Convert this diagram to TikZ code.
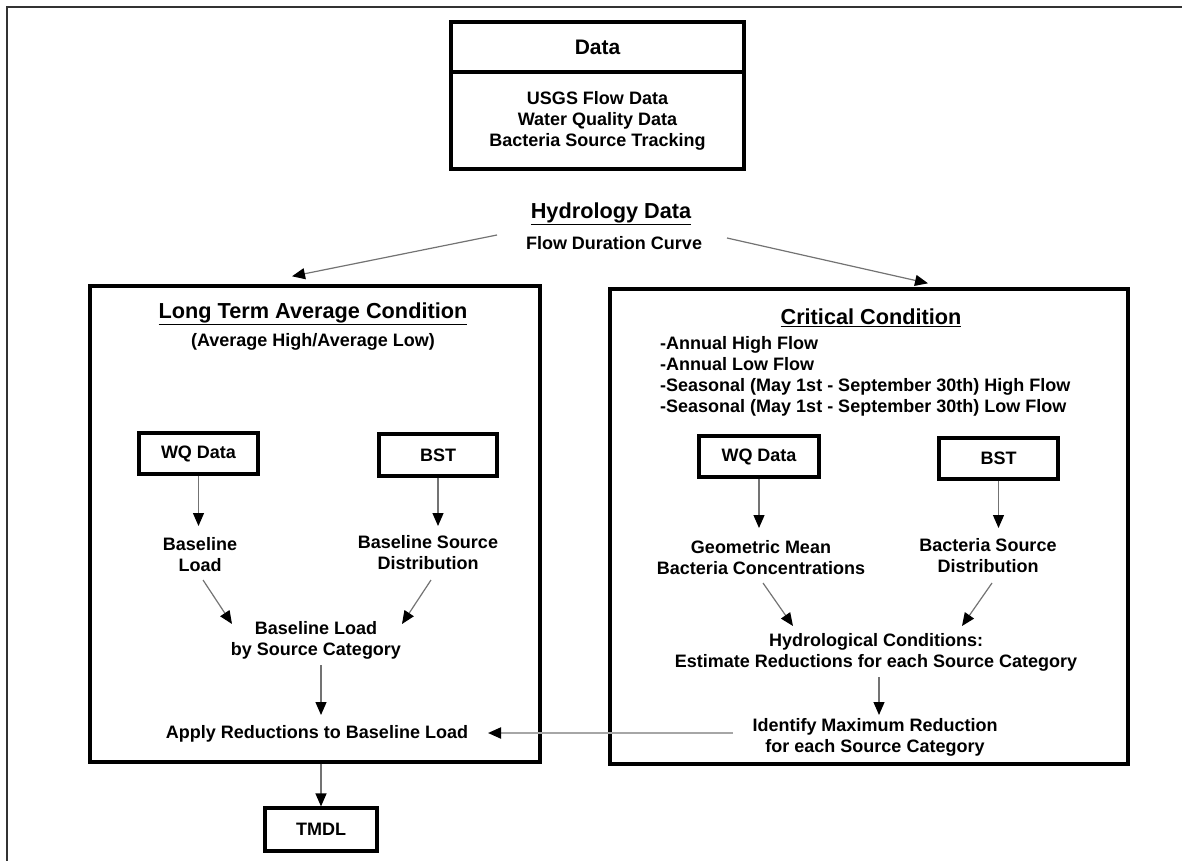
\documentclass[tikz,border=0pt]{standalone}
\usepackage{fontspec}
\setmainfont{Liberation Sans}
\usetikzlibrary{arrows.meta,calc}
\tikzset{
  box/.style={draw=black, line width=3.2pt, inner sep=0pt, font=\bfseries\fontsize{18}{21}\selectfont},
  txt/.style={inner sep=0pt, align=center, font=\bfseries\fontsize{18}{21}\selectfont},
  ttl/.style={inner sep=0pt, align=center, font=\bfseries\fontsize{21.7}{26}\selectfont},
  conn/.style={draw=black!55, line width=1.2pt, -{Triangle[length=13pt,width=11pt,color=black]}},
  connlight/.style={draw=black!35, line width=2pt, -{Triangle[length=13pt,width=11pt,color=black]}}
}
\begin{document}
\begin{tikzpicture}[x=1pt,y=-1pt]
\useasboundingbox (0,0) rectangle (1182,861);
% outer frame
\draw[line width=2.2pt, black!80] (7,861) -- (7,7) -- (1182,7);

% data box
\node[box, minimum width=293pt, minimum height=50pt, font=\bfseries\fontsize{21}{25}\selectfont] (datah) at (597.5,47) {Data};
\node[box, minimum width=293pt, minimum height=97pt, align=center] (datab) at (597.5,120.5) {USGS Flow Data\\Water Quality Data\\Bacteria Source Tracking};

% hydrology
\node[ttl] (hyd) at (611,214) {\underline{Hydrology Data}};
\node[txt] (fdc) at (614,243) {Flow Duration Curve};

% big boxes
\node[draw=black, line width=3.4pt, minimum width=450pt, minimum height=476pt, inner sep=0pt] (ltac) at (315,524) {};
\node[draw=black, line width=3.4pt, minimum width=518pt, minimum height=475pt, inner sep=0pt] (crit) at (869,526.5) {};

% left box contents
\node[ttl] (ltacT) at (313,314) {\underline{Long Term Average Condition}};
\node[txt] (ltacS) at (313,342) {(Average High/Average Low)};
\node[box, minimum width=119pt, minimum height=41pt] (wqL) at (198.5,453.5) {WQ Data};
\node[box, minimum width=118pt, minimum height=42pt] (bstL) at (438,455) {BST};
\node[txt] (blL) at (200,555) {Baseline\\Load};
\node[txt] (bsdL) at (428,553) {Baseline Source\\Distribution};
\node[txt] (blsc) at (316,640) {Baseline Load\\by Source Category};
\node[txt] (apply) at (317,734) {Apply Reductions to Baseline Load};
\node[box, minimum width=112pt, minimum height=43pt] (tmdl) at (321,829.5) {TMDL};

% right box contents
\node[ttl] (critT) at (871,318) {\underline{Critical Condition}};
\node[txt, align=left, anchor=west] (bul) at (660,376) {-Annual High Flow\\-Annual Low Flow\\-Seasonal (May 1st - September 30th) High Flow\\-Seasonal (May 1st - September 30th) Low Flow};
\node[box, minimum width=120pt, minimum height=41pt] (wqR) at (759,456.5) {WQ Data};
\node[box, minimum width=119pt, minimum height=41pt] (bstR) at (998.5,458.5) {BST};
\node[txt] (gm) at (761,558) {Geometric Mean\\Bacteria Concentrations};
\node[txt] (bsdR) at (988,556) {Bacteria Source\\Distribution};
\node[txt] (hc) at (876,652) {Hydrological Conditions:\\Estimate Reductions for each Source Category};
\node[txt] (ident) at (875,737) {Identify Maximum Reduction\\for each Source Category};

% connectors top
\draw[conn] ($(fdc)+(-117,-8)$) -- ($(ltac.north)+(-23,-8)$);
\draw[conn] ($(fdc)+(113,-5)$) -- ($(crit.north)+(59,-4)$);

% left connectors
\draw[conn] (wqL.south) -- ($(blL)+(-1.5,-29)$);
\draw[conn] (bstL.south) -- ($(bsdL)+(10,-27)$);
\draw[conn] ($(blL)+(3,25)$) -- ($(blsc)+(-84,-16)$);
\draw[conn] ($(bsdL)+(3,27)$) -- ($(blsc)+(86,-16)$);
\draw[conn] ($(blsc)+(5,25)$) -- ($(apply)+(4,-19)$);
\draw[conn] (tmdl.north |- ltac.south) -- (tmdl.north);

% right connectors
\draw[conn] (wqR.south) -- ($(gm)+(-2,-30)$);
\draw[conn] (bstR.south) -- ($(bsdR)+(10.5,-28)$);
\draw[conn] ($(gm)+(2,25)$) -- ($(hc)+(-83,-26)$);
\draw[conn] ($(bsdR)+(4,27)$) -- ($(hc)+(86,-26)$);
\draw[conn] ($(hc)+(3,25)$) -- ($(ident)+(4,-22)$);
\draw[connlight] ($(ident)+(-142,-4)$) -- ($(apply)+(171,-1)$);
\end{tikzpicture}
\end{document}
